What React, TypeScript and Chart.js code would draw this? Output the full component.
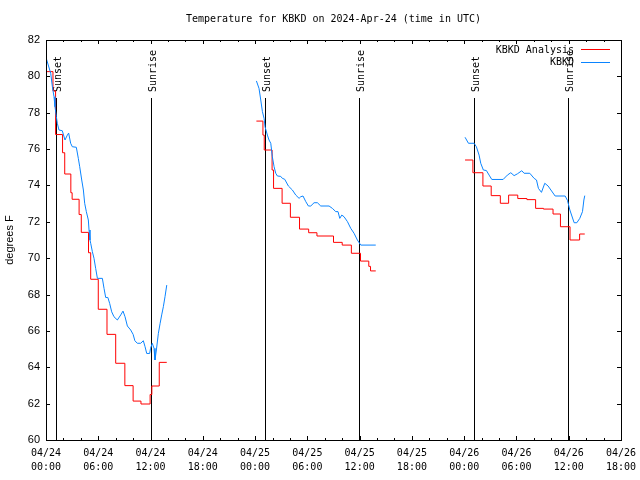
import React, { useEffect, useRef } from "react";
import { Chart, registerables } from "chart.js";

Chart.register(...registerables);

// hours since 2024-04-24 00:00 UTC; null separates the three segments
const analysisHours: (number)[] = [
  0.03, 0.8, 1.1, 1.9, 2.15, 2.85, 3.0, 3.8, 4.05, 4.88, 5.13, 6.0, 7.0, 8.0, 9.05, 10.0, 10.9, 11.95, 12.15, 13.0, 13.86,
  18,
  24.15, 24.9, 25.05, 25.95, 26.12, 27.1, 28.05, 29.1, 30.15, 31.1, 33.0, 34.0, 35.05, 36.1, 37.05, 37.25, 37.85,
  43,
  48.1, 49.0, 50.15, 51.1, 52.15, 53.1, 54.15, 55.2, 56.2, 57.1, 58.2, 59.05, 60.15, 61.25, 61.84,
];
const analysisTemps: (number | null)[] = [
  80.26, 79.2, 76.8, 75.8, 74.63, 73.6, 73.24, 72.4, 71.42, 70.3, 68.84, 67.19, 65.81, 64.22, 62.99, 62.14, 61.98, 62.5, 62.97, 64.27, 64.27,
  null,
  77.54, 76.77, 75.95, 74.85, 73.84, 73.02, 72.25, 71.6, 71.4, 71.22, 70.87, 70.72, 70.27, 69.84, 69.55, 69.3, 69.3,
  null,
  75.4, 74.7, 73.97, 73.44, 73.02, 73.47, 73.28, 73.22, 72.74, 72.7, 72.43, 71.73, 71.0, 71.33, 71.33,
];

const obsHours: number[] = [
  0.03, 0.54, 0.73, 0.92, 1.03, 1.19, 1.3, 1.49, 1.87, 2.18, 2.45, 2.6, 2.83, 3.02, 3.48, 3.71, 3.87, 4.1, 4.29, 4.44,
  4.63, 4.86, 4.94, 5.05, 5.13, 5.32, 5.51, 5.7, 5.9, 6.47, 6.66, 6.85, 7.1, 7.31, 7.54, 7.8, 8.19, 8.58, 8.84, 9.07,
  9.34, 9.72, 10.0, 10.2, 10.48, 10.87, 11.17, 11.37, 11.56, 11.9, 12.0, 12.2, 12.4, 12.51, 12.67, 12.9, 13.1, 13.28,
  13.47, 13.66, 13.86,
  18,
  24.15, 24.45, 24.65, 24.84, 25.03, 25.14, 25.41, 25.6, 25.8, 25.98, 26.18, 26.37, 26.56, 26.94, 27.13, 27.4, 27.82,
  28.28, 28.67, 29.05, 29.24, 29.5, 29.82, 30.12, 30.39, 30.77, 31.15, 31.54, 32.49, 32.87, 33.26, 33.52, 33.72, 33.95,
  34.21, 34.6, 34.98, 35.36, 35.74, 36.13, 37.85,
  43,
  48.1, 48.49, 49.14, 49.4, 49.71, 49.9, 50.2, 50.55, 50.86, 51.17, 52.47, 52.96, 53.35, 53.73, 54.11, 54.61, 54.88,
  55.53, 56.03, 56.3, 56.52, 56.87, 57.25, 57.63, 58.44, 59.59, 59.86, 60.13, 60.62, 60.93, 61.27, 61.58, 61.74, 61.84,
];
const obsTemps: (number | null)[] = [
  80.99, 80.17, 79.43, 78.88, 78.33, 77.78, 77.42, 77.05, 77.01, 76.5, 76.77, 76.88, 76.32, 76.13, 76.1, 75.49, 75.03, 74.3, 73.75, 73.02,
  72.56, 72.1, 71.55, 71.0, 70.82, 70.36, 69.99, 69.44, 68.89, 68.89, 68.34, 67.84, 67.84, 67.51, 67.05, 66.78, 66.6, 66.88, 67.09, 66.78,
  66.27, 66.05, 65.81, 65.46, 65.32, 65.32, 65.46, 65.13, 64.76, 64.76, 65.04, 65.32, 65.04, 64.4, 64.95, 65.87, 66.42, 66.88,
  67.33, 67.88, 68.52,
  null,
  79.75, 79.34, 78.7, 78.06, 77.69, 77.23, 76.77, 76.5, 76.32, 75.58, 75.03, 74.67, 74.52, 74.5, 74.39, 74.34, 73.97,
  73.75, 73.47, 73.29, 73.38, 73.42, 73.11, 72.87, 72.87, 73.05, 73.05, 72.87, 72.87, 72.74, 72.56, 72.56, 72.19, 72.37,
  72.28, 72.01, 71.64, 71.37, 71.0, 70.72, 70.72,
  null,
  76.65, 76.32, 76.32, 76.13, 75.67, 75.22, 74.85, 74.82, 74.57, 74.33, 74.33, 74.57, 74.7, 74.54, 74.64, 74.81, 74.67,
  74.67, 74.39, 74.3, 73.84, 73.62, 74.12, 73.97, 73.42, 73.42, 73.17, 72.65, 71.95, 71.95, 72.19, 72.56, 73.2, 73.44,
];

const sunHours: number[] = [1.15, 12.02, 25.14, 35.96, 49.16, 59.95];
const sunLabels: string[] = ["Sunset", "Sunrise", "Sunset", "Sunrise", "Sunset", "Sunrise"];

const seriesNames: string[] = ["KBKD Analysis", "KBKD"];
const seriesColors: string[] = ["#ff0000", "#0a84ff"];
const titleText = "Temperature for KBKD on 2024-Apr-24 (time in UTC)";
const yTitle = "degrees F";

const X_MIN = 0, X_MAX = 66, Y_MIN = 60, Y_MAX = 82;
const MONO = "'DejaVu Sans Mono', monospace";
const SANS = "'Liberation Sans', Arial, sans-serif";

const pad2 = (n: number) => (n < 10 ? "0" + n : "" + n);

const gnuplotPlugin = {
  id: "gnuplotDecor",
  beforeDatasetsDraw(chart: any) {
    const { ctx, chartArea, scales } = chart;
    const xs = scales.x;
    ctx.save();
    ctx.strokeStyle = "#000";
    ctx.lineWidth = 1;
    ctx.fillStyle = "#000";
    ctx.font = `10px ${MONO}`;
    sunHours.forEach((h, i) => {
      const px = Math.round(xs.getPixelForValue(h)) + 0.5;
      ctx.beginPath();
      ctx.moveTo(px, chartArea.top + 58);
      ctx.lineTo(px, chartArea.bottom);
      ctx.stroke();
      ctx.save();
      ctx.translate(px + 1.5, chartArea.top + 52);
      ctx.rotate(-Math.PI / 2);
      ctx.textAlign = "left";
      ctx.textBaseline = "middle";
      ctx.fillText(sunLabels[i], 0, 0);
      ctx.restore();
    });
    ctx.restore();
  },
  afterDraw(chart: any) {
    const { ctx, chartArea, scales } = chart;
    const { left, right, top, bottom } = chartArea;
    const xs = scales.x, ys = scales.y;
    ctx.save();
    // title, centred over the plot area
    ctx.font = `10px ${MONO}`;
    ctx.fillStyle = "#000";
    ctx.textAlign = "center";
    ctx.textBaseline = "middle";
    ctx.fillText(titleText, (left + right) / 2, 19);

    ctx.strokeStyle = "#000";
    ctx.lineWidth = 1;
    // border
    ctx.strokeRect(Math.round(left) + 0.5, Math.round(top) + 0.5, Math.round(right - left), Math.round(bottom - top));
    // x ticks (inward, top and bottom)
    ctx.beginPath();
    for (let h = X_MIN + 2; h < X_MAX; h += 2) {
      const px = Math.round(xs.getPixelForValue(h)) + 0.5;
      const len = h % 6 === 0 ? 4 : 2;
      ctx.moveTo(px, bottom);
      ctx.lineTo(px, bottom - len);
      ctx.moveTo(px, top);
      ctx.lineTo(px, top + len);
    }
    // y ticks (inward, left and right)
    for (let v = Y_MIN + 2; v < Y_MAX; v += 2) {
      const py = Math.round(ys.getPixelForValue(v)) + 0.5;
      ctx.moveTo(left, py);
      ctx.lineTo(left + 4, py);
      ctx.moveTo(right, py);
      ctx.lineTo(right - 4, py);
    }
    ctx.stroke();
    // legend
    ctx.textAlign = "right";
    ctx.textBaseline = "middle";
    const legX = 574;
    const legY = [50, 62.5];
    seriesNames.forEach((name, i) => {
      ctx.fillText(name, legX, legY[i]);
      ctx.strokeStyle = seriesColors[i];
      ctx.beginPath();
      const ly = Math.round(legY[i] - 1) + 0.5;
      ctx.moveTo(581, ly);
      ctx.lineTo(610, ly);
      ctx.stroke();
    });
    ctx.restore();
  },
};

export default function App() {
  const ref = useRef<HTMLCanvasElement | null>(null);
  useEffect(() => {
    if (!ref.current) return;
    const analysisData = analysisHours.map((h, i) => ({ x: h, y: analysisTemps[i] }));
    const obsData = obsHours.map((h, i) => ({ x: h, y: obsTemps[i] }));
    const chart = new Chart(ref.current, {
      type: "line",
      data: {
        datasets: [
          {
            label: seriesNames[0],
            data: analysisData as any,
            borderColor: seriesColors[0],
            backgroundColor: seriesColors[0],
            borderWidth: 1,
            pointRadius: 0,
            stepped: true,
            spanGaps: false,
            order: 1,
          },
          {
            label: seriesNames[1],
            data: obsData as any,
            borderColor: seriesColors[1],
            backgroundColor: seriesColors[1],
            borderWidth: 1,
            pointRadius: 0,
            tension: 0,
            spanGaps: false,
            order: 0,
          },
        ],
      },
      options: {
        animation: false,
        responsive: false,
        layout: { padding: { left: 0, right: 19, top: 40, bottom: 0 } },
        plugins: {
          legend: { display: false },
          tooltip: { enabled: false },
          title: { display: false },
        },
        scales: {
          x: {
            type: "linear",
            min: X_MIN,
            max: X_MAX,
            grid: { display: false, drawTicks: false },
            border: { display: false },
            afterFit: (s: any) => {
              s.height = 40;
              s.paddingLeft = 0;
              s.paddingRight = 0;
            },
            ticks: {
              stepSize: 6,
              autoSkip: false,
              maxRotation: 0,
              color: "#000",
              padding: 7,
              font: { family: MONO, size: 10, lineHeight: 1.35 },
              callback: (v: any) => {
                const n = Number(v);
                const day = 24 + Math.floor(n / 24);
                const hh = n % 24;
                return ["04/" + day, pad2(hh) + ":00"];
              },
            },
          },
          y: {
            min: Y_MIN,
            max: Y_MAX,
            grid: { display: false, drawTicks: false },
            border: { display: false },
            afterFit: (s: any) => {
              s.width = 46;
              s.paddingTop = 0;
              s.paddingBottom = 0;
            },
            ticks: {
              stepSize: 2,
              color: "#000",
              padding: 6,
              font: { family: SANS, size: 11 },
            },
            title: {
              display: true,
              text: yTitle,
              color: "#000",
              font: { family: SANS, size: 11 },
              padding: { top: 3, bottom: 0 },
            },
          },
        },
      },
      plugins: [gnuplotPlugin],
    });
    return () => chart.destroy();
  }, []);
  return (
    <div style={{ position: "fixed", left: 0, top: 0, width: 640, height: 480, background: "#fff" }}>
      <canvas ref={ref} width={640} height={480} style={{ display: "block" }} />
    </div>
  );
}
